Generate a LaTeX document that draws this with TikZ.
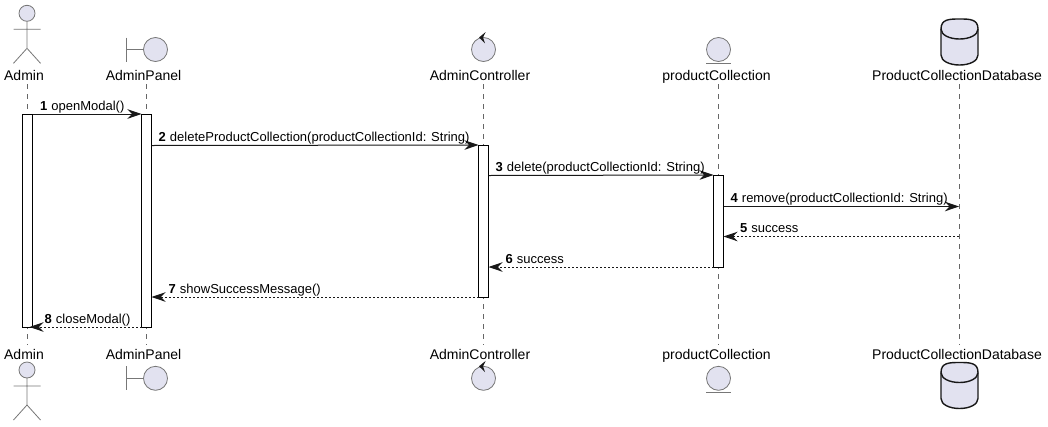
\documentclass[tikz,border=0pt]{standalone}
\usepackage{fontspec}
\setmainfont{Liberation Sans}
\usetikzlibrary{arrows.meta}
\definecolor{partfill}{HTML}{E2E2F0}
\definecolor{ink}{HTML}{181818}
\definecolor{lifegray}{HTML}{666666}
\definecolor{shapegray}{HTML}{777777}
\tikzset{
  x=1pt,y=-1pt,
  lifeline/.style={draw=lifegray,line width=0.8pt,dash pattern=on 5pt off 5pt},
  actbar/.style={draw=black,fill=white,line width=1pt,minimum width=10pt,inner sep=0pt,outer sep=0pt},
  shapeline/.style={draw=shapegray,line width=0.8pt},
  shapefill/.style={draw=shapegray,fill=partfill,line width=0.8pt},
  partname/.style={font=\fontsize{14}{16}\selectfont,text=black,inner sep=0pt,anchor=base},
  msgname/.style={font=\fontsize{13}{15}\selectfont,text=black,inner sep=0pt,anchor=base west},
  tip/.style={-{Stealth[length=14pt,width=9.5pt,inset=4.5pt,color=ink]}},
  callmsg/.style={draw=ink,line width=1pt,tip},
  backmsg/.style={draw=ink,line width=1pt,dash pattern=on 2pt off 2pt,tip},
  dbshape/.style={draw=ink,fill=partfill,line width=1.4pt},
}
\newcommand{\msgtext}[4]{\node[msgname] (#1) at (#2) {\textbf{#3}\hspace{4pt}#4};}
\newcommand{\actorfig}[2]{% x, y of head centre
  \draw[shapefill] (#1,#2) circle[radius=8];
  \draw[shapeline] (#1,#2+8) -- (#1,#2+35) (#1-13.5,#2+16) -- (#1+13.5,#2+16)
        (#1-13.5,#2+50) -- (#1,#2+35) -- (#1+13.5,#2+50);}
\newcommand{\boundaryfig}[2]{%
  \draw[shapefill] (#1+9,#2) circle[radius=12];
  \draw[shapeline] (#1-20,#2-12) -- (#1-20,#2+12) (#1-20,#2) -- (#1-3,#2);}
\newcommand{\controlfig}[2]{%
  \draw[shapefill] (#1,#2) circle[radius=12];
  \fill[ink] (#1-4.5,#2-12) -- (#1+2.2,#2-17.5) -- (#1-0.5,#2-12) -- (#1+1.5,#2-6.2) -- cycle;}
\newcommand{\entityfig}[2]{%
  \draw[shapefill] (#1,#2) circle[radius=12];
  \draw[shapeline] (#1-12.5,#2+14) -- (#1+12.5,#2+14);}
\newcommand{\dbfig}[2]{% x centre, top y
  \draw[dbshape] (#1-18.5,#2+10) .. controls (#1-18.5,#2) and (#1-10,#2) .. (#1,#2)
     .. controls (#1+10,#2) and (#1+18.5,#2) .. (#1+18.5,#2+10)
     -- (#1+18.5,#2+36) .. controls (#1+18.5,#2+42) and (#1+10,#2+46) .. (#1,#2+46)
     .. controls (#1-10,#2+46) and (#1-18.5,#2+42) .. (#1-18.5,#2+36) -- cycle;
  \draw[dbshape,fill=none] (#1-18.5,#2+10) .. controls (#1-18.5,#2+16) and (#1-10,#2+20) .. (#1,#2+20)
     .. controls (#1+10,#2+20) and (#1+18.5,#2+16) .. (#1+18.5,#2+10);}
\begin{document}
\begin{tikzpicture}
\useasboundingbox[fill=white] (0,0) rectangle (1048,426);
% lifeline ends
\foreach \n/\x in {a/27,b/146.5,c/483.5,d/718.5,e/959}{
  \coordinate (\n top) at (\x,84);
  \coordinate (\n bot) at (\x,345);
  \draw[lifeline] (\n top) -- (\n bot);
}
% participants
\actorfig{27}{13.3}
\boundaryfig{146.5}{49.5}
\controlfig{483.5}{49.5}
\entityfig{718.5}{49.5}
\dbfig{959.5}{19}
\node[partname] (pa) at (24,80) {Admin};
\node[partname] (pb) at (143.5,80) {AdminPanel};
\node[partname] (pc) at (480,80) {AdminController};
\node[partname] (pd) at (716.5,80) {productCollection};
\node[partname] (pe) at (957,80) {ProductCollectionDatabase};
\node[partname] (qa) at (24,359) {Admin};
\node[partname] (qb) at (143.5,359) {AdminPanel};
\node[partname] (qc) at (480,359) {AdminController};
\node[partname] (qd) at (716.5,359) {productCollection};
\node[partname] (qe) at (957,359) {ProductCollectionDatabase};
\actorfig{27}{370}
\boundaryfig{146.5}{378.3}
\controlfig{483.5}{378.3}
\entityfig{718.5}{378.3}
\dbfig{959.5}{362.5}
% activation bars
\node[actbar,minimum height=213pt] (ba) at (27.5,220.5) {};
\node[actbar,minimum height=213pt] (bb) at (146.5,220.5) {};
\node[actbar,minimum height=152pt] (bc) at (483.5,221) {};
\node[actbar,minimum height=92pt] (bd) at (718.5,221) {};
% message ends
\coordinate (m1a) at (ba.north east);
\coordinate (m1b) at (bb.north west);
\coordinate (m2a) at (bb.east |- 0,145.5);
\coordinate (m2b) at (bc.north west);
\coordinate (m3a) at (bc.east |- 0,175.5);
\coordinate (m3b) at (bd.north west);
\coordinate (m4a) at (bd.east |- 0,206.5);
\coordinate (m4b) at (etop |- 0,206.5);
\coordinate (m5a) at (etop |- 0,236.5);
\coordinate (m5b) at (bd.east |- 0,236.5);
\coordinate (m6a) at (bd.south west);
\coordinate (m6b) at (bc.east |- bd.south);
\coordinate (m7a) at (bc.south west);
\coordinate (m7b) at (bb.east |- bc.south);
\coordinate (m8a) at (bb.south west);
\coordinate[xshift=-3pt] (m8b) at (ba.south east);
\draw[callmsg] (m1a) -- (m1b);
\draw[callmsg] (m2a) -- (m2b);
\draw[callmsg] (m3a) -- (m3b);
\draw[callmsg] (m4a) -- (m4b);
\draw[backmsg] (m5a) -- (m5b);
\draw[backmsg] (m6a) -- (m6b);
\draw[backmsg] (m7a) -- (m7b);
\draw[backmsg] (m8a) -- (m8b);
% message labels
\msgtext{t1}{40,110}{1}{openModal()}
\msgtext{t2}{158.5,141}{2}{deleteProductCollection(productCollectionId: String)}
\msgtext{t3}{495.5,171}{3}{delete(productCollectionId: String)}
\msgtext{t4}{730.5,202}{4}{remove(productCollectionId: String)}
\msgtext{t5}{740,232}{5}{success}
\msgtext{t6}{505.5,263}{6}{success}
\msgtext{t7}{168.5,293}{7}{showSuccessMessage()}
\msgtext{t8}{44.5,323}{8}{closeModal()}
\end{tikzpicture}
\end{document}
